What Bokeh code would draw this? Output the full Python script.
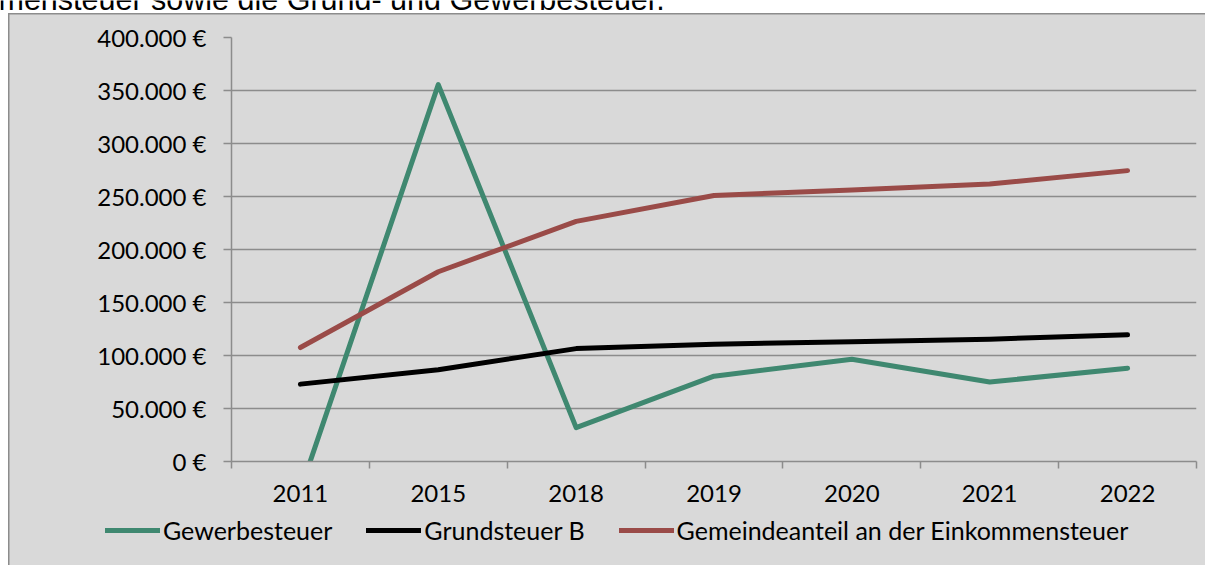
from bokeh.plotting import figure
from bokeh.layouts import column
from bokeh.models import Range1d, FixedTicker, Legend, LegendItem, Label
from bokeh.embed import file_html
from bokeh.resources import INLINE

# ---- data ----
years = ["2011", "2015", "2018", "2019", "2020", "2021", "2022"]
gewerbesteuer = [-27000, 355500, 32000, 80500, 96500, 75000, 88000]
grundsteuer_b = [73000, 86500, 106500, 110700, 112900, 115400, 119500]
gemeindeanteil = [107500, 179000, 226500, 251000, 256100, 261800, 274400]
series_names = ["Gewerbesteuer", "Grundsteuer B",
                "Gemeindeanteil an der Einkommensteuer"]
y_ticks = [0, 50000, 100000, 150000, 200000, 250000, 300000, 350000, 400000]
top_text = "mensteuer sowie die Grund- und Gewerbesteuer."

# ---- style ----
FONT = "Lato"
FS = "24px"
LEG_FS = "25px"
GRID = "#8c8c8c"
BG = "#D9D9D9"
COLORS = ["#3F8870", "#000000", "#9A4B48"]
W = 1205
TOP_H = 13
MAIN_H = 502
LEG_H = 50

series = [gewerbesteuer, grundsteuer_b, gemeindeanteil]
n = len(years)
xs = list(range(n))

# ---- strip with the (cut-off) sentence above the chart ----
top = figure(width=W, height=TOP_H, output_backend="svg", toolbar_location=None,
             title=None, x_range=Range1d(0, W), y_range=Range1d(0, TOP_H),
             x_axis_location=None, y_axis_location=None, min_border=0,
             frame_align=False,
             border_fill_color="white", background_fill_color="white",
             outline_line_color=None)
top.grid.visible = False
top.add_layout(Label(x=-2, y=15, text=top_text, text_font="Liberation Sans",
                     text_font_size="30.5px", text_baseline="alphabetic",
                     text_color="#000000"))

# ---- main chart ----
main_bg = ("linear-gradient(#8c8c8c, #8c8c8c) 8px 0px / 1.5px 100% no-repeat, "
           "linear-gradient(#8c8c8c, #8c8c8c) 8px 0px / 100% 1.5px no-repeat, "
           "linear-gradient(#D9D9D9, #D9D9D9) 8px 0px / 100% 100% no-repeat, #ffffff")

p = figure(width=W, height=MAIN_H, output_backend="svg", toolbar_location=None,
           title=None, frame_align=False,
           x_range=Range1d(-0.5, n - 0.5), y_range=Range1d(0, 400000),
           min_border_left=231, min_border_right=9, min_border_top=24,
           min_border_bottom=MAIN_H - 448,
           border_fill_color=BG, border_fill_alpha=0,
           background_fill_color=BG, background_fill_alpha=0,
           outline_line_color=None,
           styles={"background": main_bg})

p.xgrid.visible = False
p.ygrid.ticker = FixedTicker(ticks=y_ticks)
p.ygrid.grid_line_color = GRID
p.ygrid.grid_line_width = 1.5

p.yaxis.ticker = FixedTicker(ticks=y_ticks)
p.yaxis.major_label_overrides = {v: (f"{v:,}".replace(",", ".") + " €") for v in y_ticks}
p.yaxis.major_tick_out = 8
p.yaxis.major_tick_in = 0
p.yaxis.minor_tick_out = 0
p.yaxis.minor_tick_in = 0
p.yaxis.major_label_standoff = 17

p.xaxis.ticker = FixedTicker(ticks=xs, minor_ticks=[i - 0.5 for i in range(n + 1)])
p.xaxis.major_label_overrides = {i: y for i, y in zip(xs, years)}
p.xaxis.major_tick_out = 0
p.xaxis.major_tick_in = 0
p.xaxis.minor_tick_out = 7
p.xaxis.minor_tick_in = 0
p.xaxis.major_label_standoff = 16

for ax in (p.xaxis[0], p.yaxis[0]):
    ax.axis_line_color = GRID
    ax.axis_line_width = 1.5
    ax.major_tick_line_color = GRID
    ax.major_tick_line_width = 1.5
    ax.minor_tick_line_color = GRID
    ax.minor_tick_line_width = 1.5
    ax.major_label_text_font = FONT
    ax.major_label_text_font_size = FS
    ax.major_label_text_color = "#000000"

for vals, col in zip(series, COLORS):
    p.line(xs, vals, line_width=5, line_color=col,
           line_cap="round", line_join="round")

# ---- legend strip ----
leg_bg = ("linear-gradient(#8c8c8c, #8c8c8c) 8px 0px / 1.5px 100% no-repeat, "
          "linear-gradient(#D9D9D9, #D9D9D9) 8px 0px / 100% 100% no-repeat, #ffffff")
lf = figure(width=W, height=LEG_H, output_backend="svg", toolbar_location=None,
            title=None, frame_align=False,
            x_range=Range1d(0, W), y_range=Range1d(0, LEG_H),
            x_axis_location=None, y_axis_location=None, min_border=0,
            border_fill_color=BG, border_fill_alpha=0,
            background_fill_color=BG, background_fill_alpha=0,
            outline_line_color=None, styles={"background": leg_bg})
lf.grid.visible = False
leg_renderers = []
for vals, col in zip(series, COLORS):
    r = lf.line(xs, vals, line_width=5, line_color=col,
                line_cap="round", line_join="round", visible=False)
    leg_renderers.append(r)

legend = Legend(items=[LegendItem(label=nm, renderers=[r])
                       for nm, r in zip(series_names, leg_renderers)],
                orientation="horizontal", location=(105, 20),
                click_policy="none",
                glyph_width=55, glyph_height=20, label_standoff=3,
                spacing=34, padding=0, margin=0,
                label_text_font=FONT, label_text_font_size=LEG_FS,
                label_text_color="#000000",
                background_fill_alpha=0, border_line_alpha=0)
lf.add_layout(legend, "center")

open("out.html", "w").write(file_html(column(top, p, lf), INLINE))
